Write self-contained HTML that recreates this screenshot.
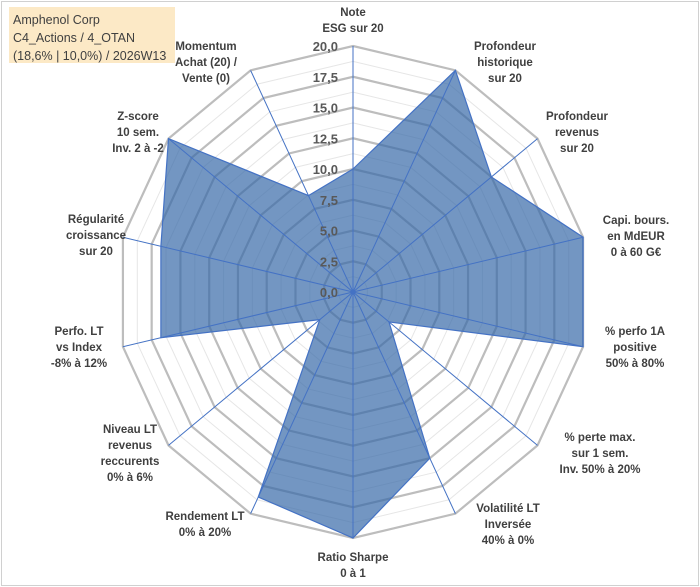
<!DOCTYPE html>
<html><head><meta charset="utf-8"><style>
html,body{margin:0;padding:0;background:#fff;}
#wrap{position:relative;width:700px;height:587px;overflow:hidden;}
svg text{font-family:"Liberation Sans",Arial,sans-serif;}
</style></head><body>
<div id="wrap">
<svg id="chart" width="700" height="587" viewBox="0 0 700 587">
<rect x="1.5" y="1.5" width="697" height="584" fill="#fff" stroke="#d0d0d0"/>
<rect x="9" y="7" width="166" height="56" fill="#fce9c6"/>
<text x="13" y="24" font-size="12.5" fill="#404040">Amphenol Corp</text>
<text x="13" y="42" font-size="12.5" fill="#404040">C4_Actions / 4_OTAN</text>
<text x="13" y="60" font-size="12.5" fill="#404040">(18,6% | 10,0%) / 2026W13</text>
</svg>
</div>
<script>
const categories=[["Note","ESG sur 20"],["Profondeur","historique","sur 20"],["Profondeur","revenus","sur 20"],["Capi. bours.","en MdEUR","0 à 60 G€"],["% perfo 1A","positive","50% à 80%"],["% perte max.","sur 1 sem.","Inv. 50% à 20%"],["Volatilité LT","Inversée","40% à 0%"],["Ratio Sharpe","0 à 1"],["Rendement LT","0% à 20%"],["Niveau LT","revenus","reccurents","0% à 6%"],["Perfo. LT","vs Index","-8% à 12%"],["Régularité","croissance","sur 20"],["Z-score","10 sem.","Inv. 2 à -2"],["Momentum","Achat (20) /","Vente (0)"]];
const values=[10,20,15,20,20,3.9,15,20,18.5,3.6,16.7,16.7,20,8.7];
const tickValues=[0,2.5,5,7.5,10,12.5,15,17.5,20];
const tickLabels=["0,0","2,5","5,0","7,5","10,0","12,5","15,0","17,5","20,0"];
const labelPos=[[353,12],[505,46],[577,116],[636,220],[635,331],[600,437],[508,508],[353,557],[205,516],[130,429],[79,331],[96,219],[138,116],[206,46]];

const svg=document.getElementById('chart');
const NS='http://www.w3.org/2000/svg';
const cx=353,cy=292,rx=236,ry=246,vmax=20,n=categories.length;
function pt(i,v){const a=i*2*Math.PI/n;return [cx+Math.sin(a)*rx*v/vmax, cy-Math.cos(a)*ry*v/vmax];}
function mk(tag,attrs){const e=document.createElementNS(NS,tag);for(const k in attrs)e.setAttribute(k,attrs[k]);svg.appendChild(e);return e;}
for(let t=1.25;t<20;t+=2.5){
  const p=mk('polygon',{points:categories.map((c,i)=>pt(i,t).join(',')).join(' '),fill:'none',stroke:'#e6e6e6','stroke-width':1});
  
  
}
tickValues.forEach(t=>{if(t===0)return;
  const p=mk('polygon',{points:categories.map((c,i)=>pt(i,t).join(',')).join(' '),fill:'none',stroke:'#bdbdbd','stroke-width':2.2});
  
  
});
const area=mk('polygon',{points:values.map((v,i)=>pt(i,v).join(',')).join(' '),fill:'rgba(55,105,168,0.7)',stroke:'#4472c4','stroke-width':1.2});


categories.forEach((c,i)=>{const p=pt(i,vmax);
  const l=mk('line',{x1:cx,y1:cy,x2:p[0],y2:p[1],stroke:'#4472c4','stroke-width':1});
  
  
});
mk('circle',{cx:cx,cy:cy,r:2.5,fill:'#4472c4'});
tickValues.forEach((t,k)=>{const y=pt(0,t)[1];
  const tx=mk('text',{x:338,y:y+5,'text-anchor':'end','font-size':13,'font-weight':'bold',fill:'#595959'});
  tx.textContent=tickLabels[k];
  
  
});
categories.forEach((lines,i)=>{const [x,y]=labelPos[i];
  lines.forEach((s,j)=>{
    const tx=mk('text',{x:x,y:y+4+j*16,'text-anchor':'middle','font-size':11.5,'font-weight':'bold',fill:'#404040'});
    tx.textContent=s;
    
    
  });
});
</script>
</body></html>
